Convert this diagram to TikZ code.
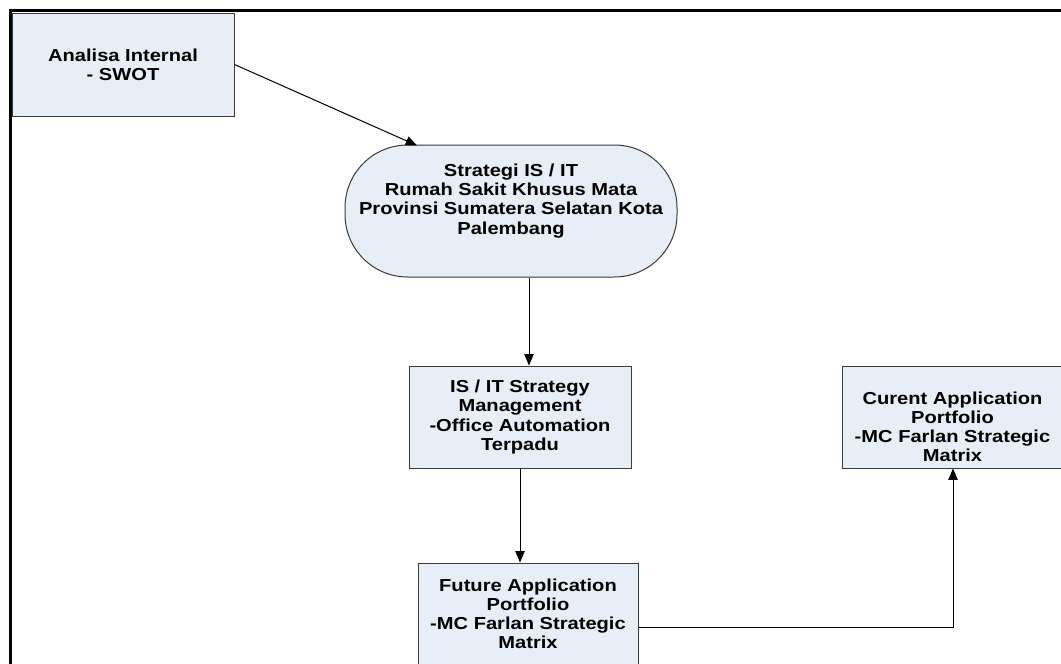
\documentclass[tikz,border=0pt]{standalone}
\usepackage{fontspec}
\setmainfont{Liberation Sans}[FakeStretch=1.16]
\usetikzlibrary{arrows.meta}
\definecolor{boxfill}{HTML}{E8EEF7}
\definecolor{boxline}{HTML}{3A3A3A}
\begin{document}
\begin{tikzpicture}[x=0.75pt,y=-0.75pt,
  box/.style={draw=boxline, fill=boxfill, line width=0.75pt, inner sep=0pt},
  txt/.style={font=\bfseries\fontsize{13}{14.3}\selectfont, align=center, inner sep=0pt, text=black},
  conn/.style={draw=black, line width=0.75pt, -{Triangle[length=8.5pt,width=7pt]}}]
\useasboundingbox (0,0) rectangle (1061,664);
\clip (0,0) rectangle (1061,664);
\draw[line width=2pt] (10.7,10.7) rectangle (1080,690);
% nodes
\node[box, txt, minimum width=166.5pt, minimum height=77.25pt] (a) at (123,64.5) {Analisa Internal\\- SWOT};
\node[box, rounded corners=47pt, minimum width=249pt, minimum height=99pt] (e) at (511,211) {};
\node[txt] (et) at (511,201) {Strategi IS / IT\\Rumah Sakit Khusus Mata\\Provinsi Sumatera Selatan Kota\\Palembang};
\node[box, txt, minimum width=166.5pt, minimum height=76.5pt] (b) at (520,417) {IS / IT Strategy\\Management\\-Office Automation\\Terpadu};
\node[box, minimum width=165pt, minimum height=76.5pt] (c) at (952,417) {};
\node[txt] (ct) at (952.5,426.5) {Curent Application\\Portfolio\\-MC Farlan Strategic\\Matrix};
\node[box, txt, minimum width=165pt, minimum height=76.5pt] (d) at (528,614) {Future Application\\Portfolio\\-MC Farlan Strategic\\Matrix};
% helper coordinates
\coordinate (etop) at (417,145.5);
\coordinate (xe) at (529,0);
\coordinate (h) at (953,627);
% connectors
\draw[conn] (a.east) -- (etop);
\draw[conn] (e.south -| xe) -- (b.north -| xe);
\draw[conn] (b.south) -- (b.south |- d.north);
\draw[conn] (d.east |- h) -- (h) -- (c.south -| h);
\end{tikzpicture}
\end{document}
